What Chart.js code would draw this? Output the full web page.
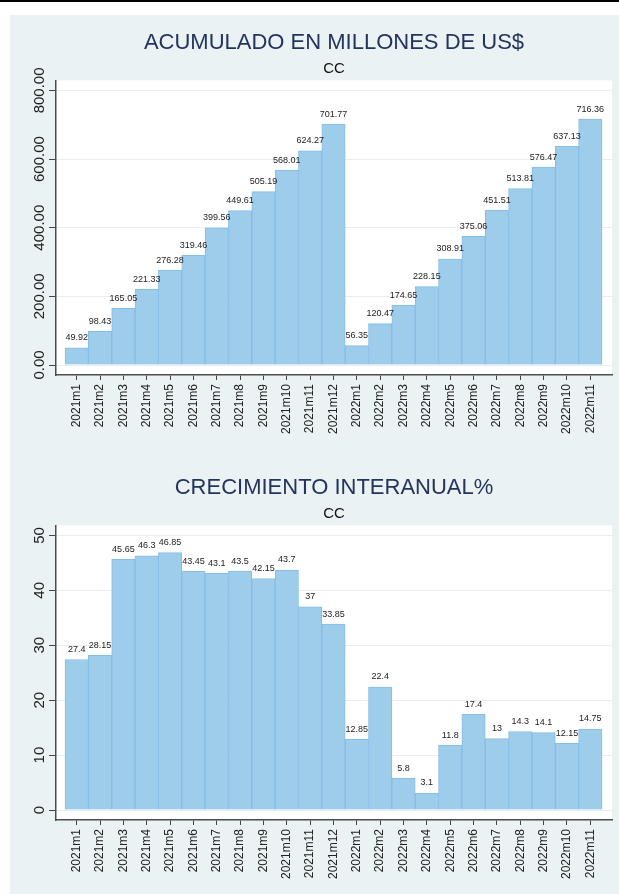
<!DOCTYPE html>
<html>
<head>
<meta charset="utf-8">
<title>CC</title>
<script src="https://cdn.jsdelivr.net/npm/chart.js@4.4.0/dist/chart.umd.min.js"></script>
<style>
  body { margin: 0; background: #fff; width: 619px; height: 894px; position: relative; overflow: hidden; }
  .topline { position: absolute; left: 0; top: 0; width: 619px; height: 2px; background: #000; }
  .panel { position: absolute; left: 10px; top: 15px; width: 609px; height: 879px; background: #eaf2f3; }
  .box { position: absolute; left: 10px; width: 609px; }
</style>
</head>
<body>
<div class="topline"></div>
<div class="panel"></div>
<div class="box" style="top:15px"><canvas id="acumChart" width="609" height="445"></canvas></div>
<div class="box" style="top:460px"><canvas id="crecChart" width="609" height="434"></canvas></div>
<script>
const months = ['2021m1', '2021m2', '2021m3', '2021m4', '2021m5', '2021m6', '2021m7', '2021m8', '2021m9', '2021m10', '2021m11', '2021m12',
  '2022m1', '2022m2', '2022m3', '2022m4', '2022m5', '2022m6', '2022m7', '2022m8', '2022m9', '2022m10', '2022m11'];

const acumulado = [49.92, 98.43, 165.05, 221.33, 276.28, 319.46, 399.56, 449.61, 505.19, 568.01, 624.27, 701.77,
  56.35, 120.47, 174.65, 228.15, 308.91, 375.06, 451.51, 513.81, 576.47, 637.13, 716.36];

const crecimiento = [27.4, 28.15, 45.65, 46.3, 46.85, 43.45, 43.1, 43.5, 42.15, 43.7, 37, 33.85,
  12.85, 22.4, 5.8, 3.1, 11.8, 17.4, 13, 14.3, 14.1, 12.15, 14.75];

const acumTicks = [0, 200, 400, 600, 800];
const crecTicks = [0, 10, 20, 30, 40, 50];

Chart.defaults.font.family = '"Liberation Sans", Arial, sans-serif';

const plotBackground = {
  id: 'plotBackground',
  beforeDraw(chart) {
    const { ctx, chartArea: a } = chart;
    ctx.save();
    ctx.fillStyle = '#ffffff';
    ctx.fillRect(a.left, a.top, a.right - a.left, a.bottom - a.top);
    ctx.restore();
  }
};

const barLabels = {
  id: 'barLabels',
  afterDatasetsDraw(chart, args, opts) {
    const { ctx } = chart;
    const meta = chart.getDatasetMeta(0);
    const data = chart.data.datasets[0].data;
    ctx.save();
    ctx.font = '9px "Liberation Sans", Arial, sans-serif';
    ctx.fillStyle = '#222';
    ctx.textAlign = 'center';
    ctx.textBaseline = 'middle';
    meta.data.forEach((bar, i) => {
      const v = data[i].y;
      const txt = opts.decimals ? v.toFixed(opts.decimals) : String(v);
      ctx.fillText(txt, bar.x, bar.y - 10);
    });
    ctx.restore();
  }
};

// y tick labels are drawn turned, like the original
const yLabels = {
  id: 'yLabels',
  afterDraw(chart, args, opts) {
    const { ctx } = chart;
    const scale = chart.scales.y;
    ctx.save();
    ctx.font = '15px "Liberation Sans", Arial, sans-serif';
    ctx.fillStyle = '#222';
    ctx.textAlign = 'center';
    ctx.textBaseline = 'middle';
    scale.ticks.forEach(t => {
      const y = scale.getPixelForValue(t.value);
      const txt = opts.decimals ? t.value.toFixed(opts.decimals) : String(t.value);
      ctx.save();
      ctx.translate(30, y);
      ctx.rotate(-Math.PI / 2);
      ctx.fillText(txt, 0, 0);
      ctx.restore();
    });
    ctx.restore();
  }
};

function makeChart(id, title, values, yMin, yMax, yTicks, decimals) {
  const ctx = document.getElementById(id).getContext('2d');
  return new Chart(ctx, {
    type: 'bar',
    data: {
      datasets: [{
        data: values.map((v, i) => ({ x: i, y: v })),
        backgroundColor: '#9dcdeb',
        borderColor: '#84bde6',
        borderWidth: 1,
        barPercentage: 1,
        categoryPercentage: 1
      }]
    },
    options: {
      responsive: false,
      animation: false,
      layout: { padding: { left: 0, right: 7, top: 0, bottom: 0 } },
      plugins: {
        legend: { display: false },
        tooltip: { enabled: false },
        title: {
          display: true,
          text: title,
          fullSize: false,
          color: '#24345c',
          font: { size: 22, weight: 'normal' },
          padding: { top: 15, bottom: 1 }
        },
        subtitle: {
          display: true,
          text: 'CC',
          fullSize: false,
          color: '#111',
          font: { size: 15, weight: 'normal' },
          padding: { top: 2, bottom: 3 }
        },
        barLabels: { decimals: decimals },
        yLabels: { decimals: decimals }
      },
      scales: {
        x: {
          type: 'linear',
          min: -0.886,
          max: 22.93,
          offset: false,
          afterBuildTicks: s => { s.ticks = months.map((m, i) => ({ value: i })); },
          afterFit: s => { s.height = s.chart.height - 360; },
          grid: { drawOnChartArea: false, offset: false, tickLength: 5, tickColor: '#444' },
          border: { display: true, color: '#4d4d4d', width: 1.5 },
          ticks: {
            autoSkip: false,
            minRotation: 90,
            maxRotation: 90,
            padding: 4,
            color: '#222',
            font: { size: 12 },
            callback: v => months[v] ?? ''
          }
        },
        y: {
          min: yMin,
          max: yMax,
          afterBuildTicks: s => { s.ticks = yTicks.map(v => ({ value: v })); },
          afterFit: s => { s.width = 46; },
          grid: { color: '#e6eef2', tickColor: '#444', tickLength: 7 },
          border: { display: true, color: '#4d4d4d', width: 1.5 },
          ticks: { display: false }
        }
      }
    },
    plugins: [plotBackground, barLabels, yLabels]
  });
}

makeChart('acumChart', 'ACUMULADO EN MILLONES DE US$', acumulado, -29.1, 829.1, acumTicks, 2);
makeChart('crecChart', 'CRECIMIENTO INTERANUAL%', crecimiento, -1.82, 51.82, crecTicks, 0);
</script>
</body>
</html>
